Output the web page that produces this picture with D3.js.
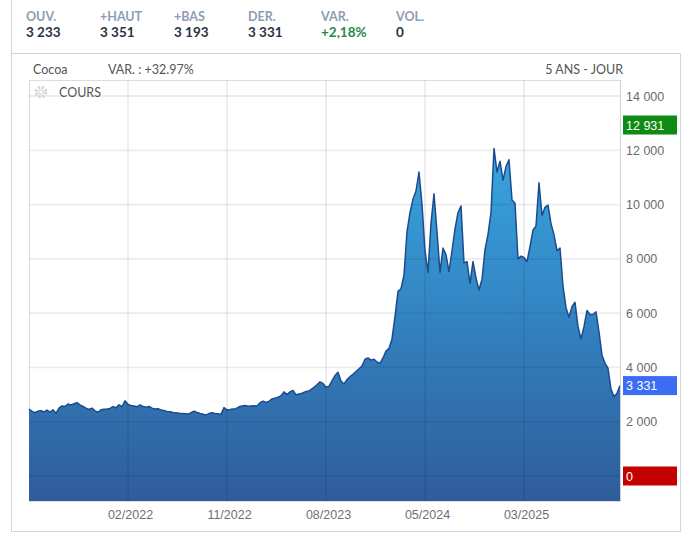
<!DOCTYPE html>
<html><head><meta charset="utf-8">
<script src="https://cdn.jsdelivr.net/npm/d3@7"></script>
<style>
html,body{margin:0;padding:0;background:#fff;}
svg{display:block;}
</style></head>
<body>
<svg id="chart" width="687" height="534"></svg>
<script>
// ---- DATA ----
const headerLabels = ["OUV.", "+HAUT", "+BAS", "DER.", "VAR.", "VOL."];
const headerValues = ["3 233", "3 351", "3 193", "3 331", "+2,18%", "0"];
const instrument = "Cocoa";
const variation = "VAR. : +32.97%";
const period = "5 ANS - JOUR";
const seriesName = "COURS";

// closing prices, evenly spaced sessions (sampled)
const prices = [
  2460,2380,2330,2390,2410,2360,2430,2350,2440,2310,
  2500,2580,2560,2650,2620,2660,2700,2620,2560,2500,
  2450,2500,2400,2350,2440,2460,2470,2490,2560,2510,
  2620,2560,2770,2640,2600,2580,2550,2620,2560,2530,
  2560,2500,2470,2480,2430,2410,2380,2370,2340,2330,
  2310,2300,2290,2280,2330,2390,2340,2300,2280,2250,
  2300,2330,2300,2290,2270,2520,2440,2450,2470,2480,
  2550,2580,2600,2570,2580,2590,2580,2700,2760,2710,
  2750,2840,2870,2900,2960,3100,3000,3100,3150,2990,
  3020,3050,3100,3120,3180,3270,3360,3470,3410,3270,
  3310,3500,3700,3820,3500,3390,3550,3660,3750,3850,
  3950,4050,4300,4350,4270,4300,4200,4150,4350,4600,
  4700,5050,5870,6800,6900,7400,9000,9700,10200,10500,
  11200,10000,8300,7500,9300,10400,9000,7500,8400,8150,
  7530,8300,9100,9700,9950,7850,7900,7100,7900,7300,
  6850,7250,8330,8900,9700,12070,11200,11600,10900,11400,
  11650,10170,10050,8000,8100,8050,7900,8450,9060,9200,
  10800,9600,9900,9980,9300,8880,8300,8400,7000,6200,
  5850,6240,6400,5500,5050,5500,6100,5950,5950,6050,
  5300,4450,4150,3970,3200,2920,3050,3331
];

const yTicks = [0, 2000, 4000, 6000, 8000, 10000, 12000, 14000];
const xTickIndex = [33, 66, 99, 132, 165];
const xTickLabels = ["02/2022", "11/2022", "08/2023", "05/2024", "03/2025"];

const markerValues = [12931, 3331, 0];
const markerColors = ["#0f8a12", "#3b6cf2", "#c40000"];

// ---- DRAW ----
const svg = d3.select("#chart");
const L = 29, R = 620, T = 80, B = 501;

// frames
svg.append("line").attr("x1", 11.5).attr("x2", 11.5).attr("y1", 0).attr("y2", 532)
  .attr("stroke", "#cdd5e0");
svg.append("path").attr("d", "M11.5,53.5H680.5V531.5H11.5")
  .attr("fill", "none").attr("stroke", "#cdd5e0");

// header
const hx = [26, 100, 174, 248, 321, 396];
headerLabels.forEach((t, i) => {
  svg.append("text").attr("x", hx[i]).attr("y", 21).text(t)
    .attr("font-family", "Lato, 'Open Sans', sans-serif").attr("font-weight", 700)
    .attr("font-size", 12.5).attr("fill", "#8d9db5");
  svg.append("text").attr("x", hx[i]).attr("y", 37).text(headerValues[i])
    .attr("font-family", "Lato, 'Open Sans', sans-serif").attr("font-weight", 700)
    .attr("font-size", 13.5).attr("fill", i === 4 ? "#1f8a4c" : "#2b3342");
});

// subtitle
const sub = svg.append("g").attr("font-family", "Lato, 'Open Sans', sans-serif")
  .attr("font-size", 12.5).attr("fill", "#555");
sub.append("text").attr("x", 33).attr("y", 74).text(instrument);
sub.append("text").attr("x", 108).attr("y", 74).text(variation);
sub.append("text").attr("x", 623).attr("y", 74).attr("text-anchor", "end").text(period);

// scales
const x = d3.scaleLinear().domain([0, prices.length - 1]).range([L, R]);
const y = d3.scaleLinear().domain([0, 14000]).range([476, 96]);

// plot background
svg.append("rect").attr("x", L + 0.5).attr("y", T + 0.5).attr("width", R - L)
  .attr("height", B - T).attr("fill", "#fff").attr("stroke", "#dcdcdc");

// gradient
const defs = svg.append("defs");
const grad = defs.append("linearGradient").attr("id", "g1")
  .attr("gradientUnits", "userSpaceOnUse").attr("x1", 0).attr("x2", 0)
  .attr("y1", 140).attr("y2", B);
grad.append("stop").attr("offset", 0).attr("stop-color", "#38a6df");
grad.append("stop").attr("offset", 0.45).attr("stop-color", "#3386c4");
grad.append("stop").attr("offset", 1).attr("stop-color", "#2f5c9b");

const area = d3.area().x((d, i) => x(i)).y0(B).y1(d => y(d)).curve(d3.curveLinear);
svg.append("path").datum(prices).attr("d", area).attr("fill", "url(#g1)");

// grid
const grid = svg.append("g").attr("stroke", "rgba(0,0,0,0.075)").attr("stroke-width", 1.8);
yTicks.forEach(v => {
  grid.append("line").attr("x1", L).attr("x2", R).attr("y1", y(v)).attr("y2", y(v));
});
xTickIndex.forEach(i => {
  grid.append("line").attr("x1", x(i)).attr("x2", x(i)).attr("y1", T).attr("y2", B);
});

const line = d3.line().x((d, i) => x(i)).y(d => y(d));
svg.append("path").datum(prices).attr("d", line).attr("fill", "none")
  .attr("stroke", "#1d4b8e").attr("stroke-width", 1.5).attr("stroke-linejoin", "round");

// right border
svg.append("line").attr("x1", R + 0.5).attr("x2", R + 0.5).attr("y1", T).attr("y2", B)
  .attr("stroke", "#d0d0d0");

// y axis labels
const fmt = v => d3.format(",")(v).replace(/,/g, " ");
const yAxis = d3.axisRight(y).tickValues(yTicks.filter(v => v > 0)).tickFormat(fmt)
  .tickSize(0).tickPadding(6);
const ya = svg.append("g").attr("transform", `translate(${R},0)`).call(yAxis);
ya.select(".domain").remove();
ya.selectAll("text").attr("font-family", "'Liberation Sans', Arial, sans-serif")
  .attr("font-size", 12.5).attr("fill", "#6b6b6b");

// x axis labels
const xAxis = d3.axisBottom(x).tickValues(xTickIndex)
  .tickFormat((d, i) => xTickLabels[i]).tickSize(0).tickPadding(9);
const xa = svg.append("g").attr("transform", `translate(2,${B})`).call(xAxis);
xa.select(".domain").remove();
xa.selectAll("text").attr("font-family", "'Liberation Sans', Arial, sans-serif")
  .attr("font-size", 12.5).attr("fill", "#707070");

// markers
markerValues.forEach((v, i) => {
  svg.append("rect").attr("x", 623).attr("y", y(v) - 9.5).attr("width", 54).attr("height", 19)
    .attr("fill", markerColors[i]);
  svg.append("text").attr("x", 626).attr("y", y(v) + 4.5).text(fmt(v))
    .attr("font-family", "'Liberation Sans', Arial, sans-serif")
    .attr("font-size", 12.5).attr("fill", "#fff");
});

// series legend with gear
const gear = svg.append("g").attr("transform", "translate(41,92)");
gear.append("circle").attr("r", 4.8).attr("fill", "none").attr("stroke", "#d4d4d4")
  .attr("stroke-width", 3).attr("stroke-dasharray", "2.2 1.6");
gear.append("circle").attr("r", 3).attr("fill", "#e2e2e2");
gear.append("circle").attr("r", 1.5).attr("fill", "#fff");
svg.append("text").attr("x", 59).attr("y", 97).text(seriesName)
  .attr("font-family", "Lato, 'Open Sans', sans-serif").attr("font-size", 12.5)
  .attr("fill", "#555");
</script>
</body></html>
